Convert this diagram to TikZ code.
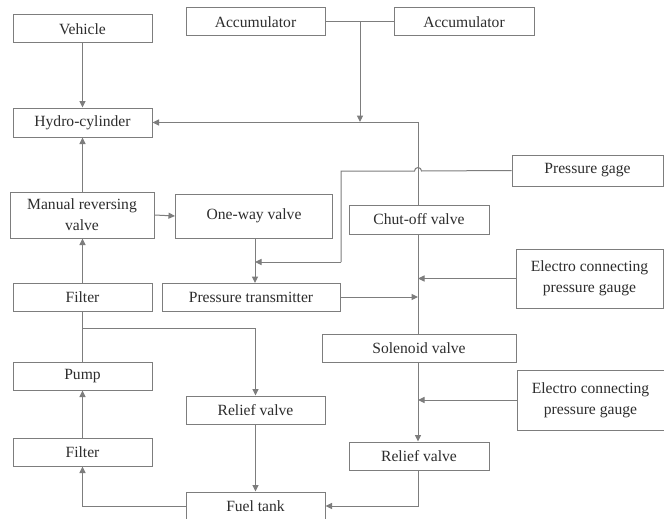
\documentclass[tikz,border=0pt]{standalone}
\usepackage{fontspec}
\setmainfont{Liberation Serif}
\usetikzlibrary{arrows.meta,calc}
\definecolor{linec}{RGB}{125,125,125}
\definecolor{textc}{RGB}{45,45,45}
\begin{document}
\begin{tikzpicture}[x=1pt,y=-1pt,
  box/.style={draw=linec,line width=1pt,rectangle,inner sep=0pt,anchor=center,
    text=textc,align=center,font=\fontsize{15.6}{21}\selectfont},
  conn/.style={draw=linec,line width=1pt},
  arr/.style={conn,-{Triangle[length=6.5pt,width=6pt]}}]
\useasboundingbox (0,0) rectangle (664,519);
\fill[white] (0,0) rectangle (664,519);
% boxes
\node[box,minimum width=139pt,minimum height=28pt] (veh) at (82.5,29) {Vehicle};
\node[box,minimum width=139pt,minimum height=28pt] (acc1) at (255.5,22) {Accumulator};
\node[box,minimum width=140pt,minimum height=28pt] (acc2) at (464,22) {Accumulator};
\node[box,minimum width=139pt,minimum height=29pt] (hyd) at (82.5,122.5) {Hydro-cylinder};
\node[box,minimum width=144pt,minimum height=46pt] (mrv) at (82,215) {Manual reversing\\valve};
\node[box,minimum width=157pt,minimum height=44pt] (owv) at (254,216) {One-way valve};
\node[box,minimum width=151pt,minimum height=31pt] (pg) at (587.5,170.5) {Pressure gage};
\node[box,minimum width=140pt,minimum height=29pt] (cut) at (419,219.5) {Chut-off valve};
\node[box,minimum width=147pt,minimum height=59pt] (ecg1) at (589.5,278.5) {Electro connecting\\pressure gauge};
\node[box,minimum width=139pt,minimum height=28pt] (fil1) at (82.5,297) {Filter};
\node[box,minimum width=178pt,minimum height=28pt] (ptr) at (251,297) {Pressure transmitter};
\node[box,minimum width=194pt,minimum height=28pt] (sol) at (419,348) {Solenoid valve};
\node[box,minimum width=139pt,minimum height=28pt] (pump) at (82.5,376) {Pump};
\node[box,minimum width=139pt,minimum height=28pt] (rv1) at (255.5,410) {Relief valve};
\node[box,minimum width=147pt,minimum height=60pt] (ecg2) at (590.5,400) {Electro connecting\\pressure gauge};
\node[box,minimum width=139pt,minimum height=28pt] (fil2) at (82.5,452) {Filter};
\node[box,minimum width=140pt,minimum height=28pt] (rv2) at (419,456) {Relief valve};
\node[box,minimum width=139pt,minimum height=28pt] (ft) at (255.5,506) {Fuel tank};
% junction coordinates
\coordinate (tj) at (418,122);
\coordinate (aj) at (360,22);
\coordinate (hopR) at (421.5,171);
\coordinate (hopL) at (414.5,171);
\coordinate (pgc) at (341,171);
\coordinate (fj) at (82.5,328);
% connectors
\draw[conn] (acc1.east) -- (acc2.west);
\draw[arr] (aj) -- (aj |- tj);
\draw[arr] (cut.north -| tj) |- (hyd.east);
\draw[conn] (cut.south -| tj) -- (sol.north -| tj);
\draw[arr] (veh.south) -- (hyd.north);
\draw[arr] (mrv.north -| hyd.south) -- (hyd.south);
\draw[arr] (mrv.east) -- (owv.west);
\draw[arr] (fil1.north) -- (fil1.north |- mrv.south);
\draw[conn] (pg.west) -- (hopR) arc[start angle=0,end angle=180,radius=3.5pt] -- (pgc) -- (341,262);
\draw[arr] (341,262) -- (255,262);
\draw[arr] (255,238) -- (255,283);
\draw[arr] (ptr.east) -- (ptr.east -| tj);
\draw[arr] (ecg1.west) -- (ecg1.west -| tj);
\draw[arr] (ecg2.west) -- (ecg2.west -| tj);
\draw[arr] (sol.south -| tj) -- (rv2.north -| tj);
\draw[arr] (rv2.south -| tj) |- (ft.east);
\draw[conn] (fil1.south) -- (pump.north);
\draw[arr] (fj) -| (rv1.north);
\draw[arr] (rv1.south) -- (ft.north);
\draw[arr] (ft.west) -| (fil2.south);
\draw[arr] (fil2.north) -- (pump.south);
\end{tikzpicture}
\end{document}
